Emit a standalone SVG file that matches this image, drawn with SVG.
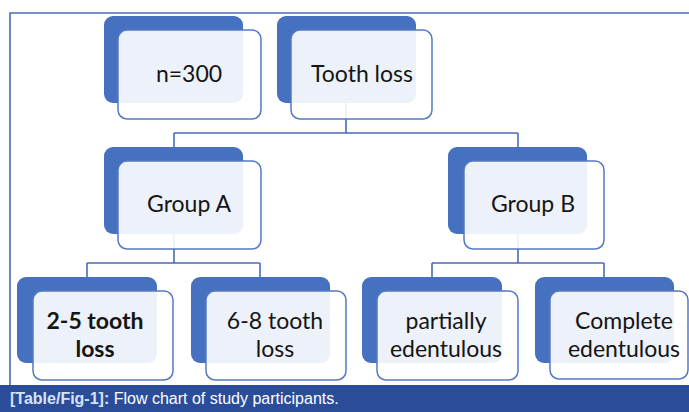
<svg xmlns="http://www.w3.org/2000/svg" width="689" height="412" viewBox="0 0 689 412">
<style>
.back{fill:#4571c0}
.front{fill:#ffffff;fill-opacity:0.9;stroke:#5479c2;stroke-width:1.5}
.lbl{font-family:Lato,"Liberation Sans",sans-serif;font-size:23px;fill:#151515;text-anchor:middle}
.b{font-weight:bold}
.conn{fill:none;stroke:#4a6cb5;stroke-width:1.6}
.frame{fill:none;stroke:#4a6cb5;stroke-width:1.6}
.cap{font-family:"Liberation Sans",Arial,sans-serif;font-size:16px}
</style>
<rect x="0" y="0" width="689" height="412" fill="#ffffff"/>
<path class="frame" d="M10,385 V13 H689"/>
<g id="connectors">
<path class="conn" d="M346,103 V133 M174,133 H518 M174,133 V147 M518,133 V147"/>
<path class="conn" d="M174,233 V263 M87,263 H260 M87,263 V277 M260,263 V277"/>
<path class="conn" d="M518,233 V263 M432,263 H604 M432,263 V277 M604,263 V277"/>
</g>
<g id="n300">
<rect class="back" x="104" y="16" width="139" height="87" rx="9"/>
<rect class="front" x="118" y="30" width="143" height="89" rx="9"/>
<text class="lbl" x="189" y="82">n=300</text>
</g>
<g id="toothloss">
<rect class="back" x="277" y="16" width="139" height="87" rx="9"/>
<rect class="front" x="291" y="30" width="141" height="89" rx="9"/>
<text class="lbl" x="362" y="82">Tooth loss</text>
</g>
<g id="groupA">
<rect class="back" x="104" y="147" width="139" height="87" rx="9"/>
<rect class="front" x="118" y="161" width="143" height="88" rx="9"/>
<text class="lbl" x="189" y="212">Group A</text>
</g>
<g id="groupB">
<rect class="back" x="448" y="147" width="139" height="87" rx="9"/>
<rect class="front" x="464" y="161" width="140" height="88" rx="9"/>
<text class="lbl" x="533" y="212">Group B</text>
</g>
<g id="n25">
<rect class="back" x="17" y="277" width="140" height="86" rx="9"/>
<rect class="front" x="33" y="291" width="140" height="89" rx="9"/>
<text class="lbl b" x="95" y="329">2-5 tooth</text>
<text class="lbl b" x="95" y="357">loss</text>
</g>
<g id="n68">
<rect class="back" x="191" y="277" width="139" height="86" rx="9"/>
<rect class="front" x="206" y="291" width="140" height="89" rx="9"/>
<text class="lbl" x="275" y="329">6-8 tooth</text>
<text class="lbl" x="275" y="357">loss</text>
</g>
<g id="partial">
<rect class="back" x="362" y="277" width="140" height="86" rx="9"/>
<rect class="front" x="377" y="291" width="141" height="89" rx="9"/>
<text class="lbl" x="446" y="329">partially</text>
<text class="lbl" x="446" y="357">edentulous</text>
</g>
<g id="complete">
<rect class="back" x="535" y="277" width="139" height="86" rx="9"/>
<rect class="front" x="550" y="291" width="138" height="88" rx="9"/>
<text class="lbl" x="624" y="329">Complete</text>
<text class="lbl" x="624" y="357">edentulous</text>
</g>
<g id="caption">
<rect x="0" y="385" width="689" height="27" fill="#2b4d99"/>
<text class="cap" x="10" y="404"><tspan font-weight="bold" fill="#d6e3f5">[Table/Fig-1]:</tspan><tspan fill="#ffffff"> Flow chart of study participants.</tspan></text>
</g>
</svg>
